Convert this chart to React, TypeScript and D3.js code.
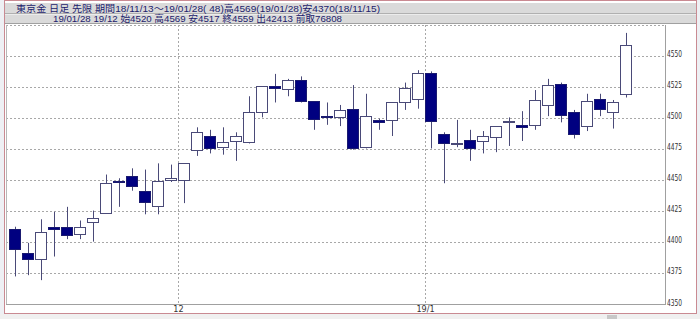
import React from "react";
import * as d3 from "d3";

const opens = [4411, 4392, 4387, 4413, 4413, 4407, 4417, 4424, 4450, 4454, 4442, 4430, 4451, 4451, 4475, 4486, 4477, 4482, 4481, 4505, 4526, 4524, 4531, 4514, 4502, 4501, 4508, 4477, 4499, 4499, 4513, 4516, 4537, 4488, 4479.5, 4483, 4482, 4485, 4497, 4495, 4495, 4511, 4528, 4505, 4494, 4516, 4505, 4520];
const highs = [4413, 4400, 4419, 4425, 4429, 4418, 4426, 4455, 4452, 4460, 4459, 4464, 4463, 4464, 4493, 4491, 4493, 4489, 4518, 4526, 4536, 4532, 4534, 4514, 4513, 4511, 4527, 4520, 4500, 4513, 4529, 4539, 4538, 4489, 4499, 4491, 4490, 4494, 4501, 4506, 4523, 4532, 4529, 4507, 4520, 4520, 4515, 4569];
const lows = [4373, 4374, 4370, 4389, 4403, 4403, 4401, 4424, 4429, 4442, 4423, 4423, 4449, 4432, 4470, 4472, 4471, 4466, 4480, 4501, 4513, 4518, 4513, 4491, 4495, 4494, 4475, 4476, 4491, 4486, 4507, 4508, 4476, 4448, 4477, 4466, 4472, 4473, 4478, 4482, 4491, 4502, 4497, 4484, 4490, 4502, 4492, 4517];
const closes = [4395, 4387, 4409, 4411, 4406, 4413, 4420, 4448, 4449, 4446, 4433, 4450, 4452, 4464, 4489, 4476, 4481, 4486, 4505, 4526, 4525, 4531, 4514, 4500, 4501, 4507, 4476, 4502, 4497, 4513, 4525, 4537, 4498, 4480, 4480.5, 4476, 4486, 4494, 4498, 4493, 4515, 4527, 4503, 4488, 4514, 4508, 4513, 4559];

const yTicks = [4350, 4375, 4400, 4425, 4450, 4475, 4500, 4525, 4550];
const monthLabels = ["12", "19/1"];
const monthStartIndex = [13, 32];

const headerLine1 = "東京金 日足 先限 期間18/11/13～19/01/28( 48)高4569(19/01/28)安4370(18/11/15)";
const headerLine2 = "19/01/28 19/12 始4520 高4569 安4517 終4559 出42413 前取76808";

export default function App() {
  const W = 700, H = 319;
  const plotLeft = 6, plotRight = 665, plotTop = 25, plotBottom = 304;
  const idx = d3.range(opens.length);
  const x = d3.scaleBand<number>().domain(idx).range([8.5, 8.5 + 13 * opens.length]).padding(0);
  const cx = (i: number) => Math.round((x(i) as number) + x.bandwidth() / 2);
  const y = d3.scaleLinear().domain([4350, 4550]).range([305, 56.5]);
  const crisp = (v: number) => Math.floor(v) + 0.5;

  const wick = "#4a4a78";
  const navy = "#000080";
  const grid = "#a8a8a8";
  const txt = "#1c1c6c";
  const font = "'Liberation Sans Narrow', 'DejaVu Sans Condensed', sans-serif";
  const hfont = "'Liberation Sans', 'Noto Sans CJK JP', sans-serif";

  return (
    <svg width={W} height={H} style={{ position: "absolute", left: 0, top: 0, display: "block" }}>
      <rect x={0} y={0} width={W} height={H} fill="#eef0f4" />
      <rect x={4.5} y={0.5} width={692} height={313} fill="#ffffff" stroke="#c98a92" strokeWidth={1} />
      {/* header bands */}
      <rect x={5} y={3} width={691} height={10} fill="#dadada" />
      <line x1={5} x2={696} y1={13.5} y2={13.5} stroke="#b0b0b0" />
      <rect x={5} y={14.5} width={691} height={9} fill="#dadada" />
      <line x1={5} x2={696} y1={23.5} y2={23.5} stroke="#a0a0a0" />
      <text x={16} y={11.5} fill={txt} fontSize={9.5} fontFamily={hfont} textLength={364} lengthAdjust="spacingAndGlyphs" style={{ whiteSpace: "pre" }}>{headerLine1}</text>
      <text x={53} y={22} fill={txt} fontSize={9.5} fontFamily={hfont} textLength={289} lengthAdjust="spacingAndGlyphs" style={{ whiteSpace: "pre" }}>{headerLine2}</text>

      {/* grid */}
      {yTicks.filter(v => v > 4350).map(v => (
        <line key={"g" + v} x1={plotLeft} x2={plotRight} y1={crisp(y(v))} y2={crisp(y(v))} stroke={grid} strokeDasharray="2,2" />
      ))}
      <line x1={plotLeft} x2={plotRight} y1={plotTop + 0.5} y2={plotTop + 0.5} stroke={grid} strokeDasharray="2,2" />
      {monthStartIndex.map((m, k) => {
        const lx = Math.round((x(m) as number) - 0.5) + 0.5 + 1;
        return (
          <g key={"m" + k}>
            <line x1={lx} x2={lx} y1={plotTop} y2={plotBottom} stroke={grid} strokeDasharray="2,2" />
            <text x={lx} y={312} fontSize={9} fill="#333" fontFamily={font} textAnchor="middle">{monthLabels[k]}</text>
          </g>
        );
      })}
      {/* frame */}
      <line x1={plotLeft + 0.5} x2={plotLeft + 0.5} y1={plotTop} y2={plotBottom + 1} stroke="#b8b8b8" />
      <line x1={plotRight + 0.5} x2={plotRight + 0.5} y1={plotTop} y2={plotBottom + 1} stroke="#a0a0a0" />
      <line x1={plotLeft} x2={plotRight + 1} y1={plotBottom + 0.5} y2={plotBottom + 0.5} stroke="#a0a0a0" />

      {/* y labels */}
      {yTicks.map(v => (
        <text key={"t" + v} x={667} y={Math.floor(y(v)) + 0.5} fontSize={9} fill="#333" fontFamily={font} textLength={15} lengthAdjust="spacingAndGlyphs">{v}</text>
      ))}

      {/* candles */}
      {idx.map(i => {
        const c = cx(i) + 0.5;
        const o = opens[i], cl = closes[i];
        const bull = cl >= o;
        const top = Math.round(y(Math.max(o, cl))) + 0.5;
        const bot = Math.round(y(Math.min(o, cl))) + 0.5;
        const h = Math.max(1, bot - top);
        return (
          <g key={"c" + i}>
            <line x1={c} x2={c} y1={y(highs[i])} y2={y(lows[i])} stroke={wick} strokeWidth={1} />
            <rect x={c - 6} y={top} width={11} height={h} fill={bull ? "#ffffff" : navy} stroke={bull ? wick : "#1a1a70"} strokeWidth={1} />
          </g>
        );
      })}

      {/* scrollbar */}
      <rect x={0} y={314} width={W} height={5} fill="#f0f0f0" />
      <rect x={607} y={315} width={10} height={4} fill="#c8c8c8" />
    </svg>
  );
}
